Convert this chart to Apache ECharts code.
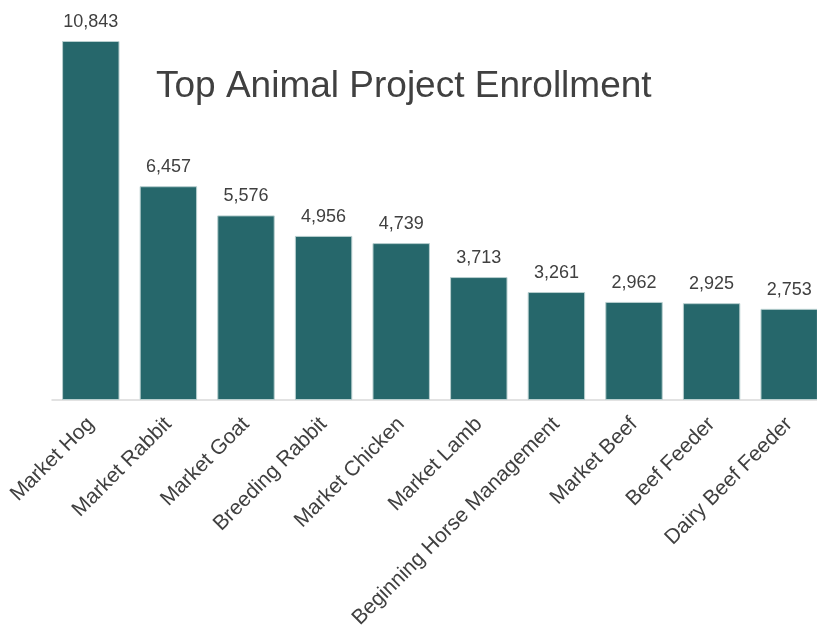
<!DOCTYPE html>
<html><head><meta charset="utf-8">
<script src="https://cdn.jsdelivr.net/npm/echarts@6/dist/echarts.min.js"></script>
<style>html,body{margin:0;padding:0;background:#fff}#c{width:817px;height:627px}</style>
</head><body><div id="c"></div>
<script>
const categories = ["Market Hog","Market Rabbit","Market Goat","Breeding Rabbit","Market Chicken","Market Lamb","Beginning Horse Management","Market Beef","Beef Feeder","Dairy Beef Feeder"];
const enrollment = [10843,6457,5576,4956,4739,3713,3261,2962,2925,2753];
const chart = echarts.init(document.getElementById('c'));
chart.setOption({
  animation:false,
  title:{text:"Top Animal Project Enrollment",left:151,top:63,textStyle:{fontFamily:"Liberation Sans",fontSize:37,fontWeight:"normal",color:"#404040"}},
  grid:{left:52,width:776,top:2.7,height:397.3,containLabel:false,outerBoundsMode:"none"},
  xAxis:{type:"category",data:categories,
    axisLine:{lineStyle:{color:"#d9d9d9",width:1.5}},axisTick:{show:false},
    axisLabel:{rotate:45,interval:0,margin:21,fontFamily:"Liberation Sans",fontSize:21,color:"#404040"}},
  yAxis:{type:"value",min:0,max:12000,show:false,splitLine:{show:false}},
  series:[{type:"bar",data:enrollment,barCategoryGap:"26%",
    itemStyle:{color:"#26676b",borderColor:"#b8cfcf",borderWidth:1},
    label:{show:true,position:"top",distance:10,fontFamily:"Liberation Sans",fontSize:18,color:"#404040",
      formatter:p=>p.value.toLocaleString("en-US")}}]
});
</script></body></html>
